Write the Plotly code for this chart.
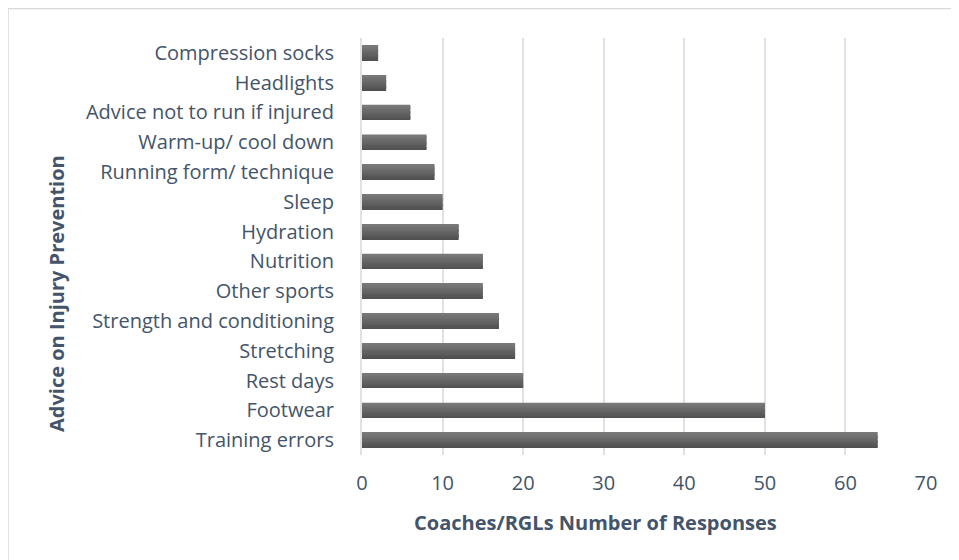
import plotly.graph_objects as go

CATEGORIES = [
    "Training errors",
    "Footwear",
    "Rest days",
    "Stretching",
    "Strength and conditioning",
    "Other sports",
    "Nutrition",
    "Hydration",
    "Sleep",
    "Running form/ technique",
    "Warm-up/ cool down",
    "Advice not to run if injured",
    "Headlights",
    "Compression socks",
]
RESPONSES = [64, 50, 20, 19, 17, 15, 15, 12, 10, 9, 8, 6, 3, 2]
X_TICKS = [0, 10, 20, 30, 40, 50, 60, 70]

TEXT_COLOR = "#44546a"
GRID_COLOR = "#dde1e8"
FONT = "'Open Sans', sans-serif"

# page has an 8px body margin, so the figure is sized to fit the window
W, H = 951, 552
L, R, T, B = 354, 33, 30, 105
pw, ph = W - L - R, H - T - B

# the bar fill is a vertical grey gradient: lighter at top, darker at bottom
STRIPS = 12
BAR_W = 0.5
TOP_RGB = (0x78, 0x78, 0x78)
BOT_RGB = (0x50, 0x50, 0x50)

fig = go.Figure()
for i in range(STRIPS):
    f = i / (STRIPS - 1)
    rgb = tuple(round(b + (t - b) * f) for t, b in zip(TOP_RGB, BOT_RGB))
    sw = BAR_W / STRIPS
    fig.add_trace(
        go.Bar(
            x=RESPONSES,
            y=CATEGORIES,
            orientation="h",
            width=sw * 1.15,
            offset=-BAR_W / 2 + i * sw,
            marker=dict(color="rgb(%d,%d,%d)" % rgb, line=dict(width=0)),
            hovertemplate="<b>%{y}</b><br>Responses: %{x}<extra></extra>",
            showlegend=False,
        )
    )

# light frame around the chart
fig.add_shape(
    type="rect",
    xref="paper", yref="paper",
    x0=(0 - L) / pw, x1=(W + 5 - L) / pw,
    y0=-(H + 5 - T - ph) / ph, y1=1 + (T - 0.5) / ph,
    line=dict(color="#d9d9d9", width=1.5),
    layer="below",
)

fig.update_layout(
    width=W,
    height=H,
    margin=dict(l=L, r=R, t=T, b=B),
    barmode="overlay",
    plot_bgcolor="white",
    paper_bgcolor="white",
    showlegend=False,
    font=dict(family=FONT, size=20, color=TEXT_COLOR),
    xaxis=dict(
        range=[0, 70],
        tickvals=X_TICKS,
        showgrid=True,
        gridcolor=GRID_COLOR,
        gridwidth=1.5,
        zeroline=False,
        showline=False,
        ticks="",
        ticklabelstandoff=14,
        tickfont=dict(size=20, color=TEXT_COLOR),
    ),
    yaxis=dict(
        showgrid=False,
        zeroline=False,
        showline=True,
        linecolor=GRID_COLOR,
        linewidth=2,
        ticks="",
        ticklabelstandoff=22,
        tickfont=dict(size=20, color=TEXT_COLOR),
    ),
    annotations=[
        dict(
            text="<b>Coaches/RGLs Number of Responses</b>",
            xref="paper", yref="paper",
            x=(587 - L) / pw, y=-(514 - T - ph) / ph,
            xanchor="center", yanchor="middle",
            showarrow=False,
            font=dict(size=20, color=TEXT_COLOR),
        ),
        dict(
            text="<b>Advice on Injury Prevention</b>",
            xref="paper", yref="paper",
            x=(48 - L) / pw, y=1 - (286 - T) / ph,
            xanchor="center", yanchor="middle",
            textangle=-90,
            showarrow=False,
            font=dict(size=20, color=TEXT_COLOR),
        ),
    ],
)

fig.write_html("out.html")
